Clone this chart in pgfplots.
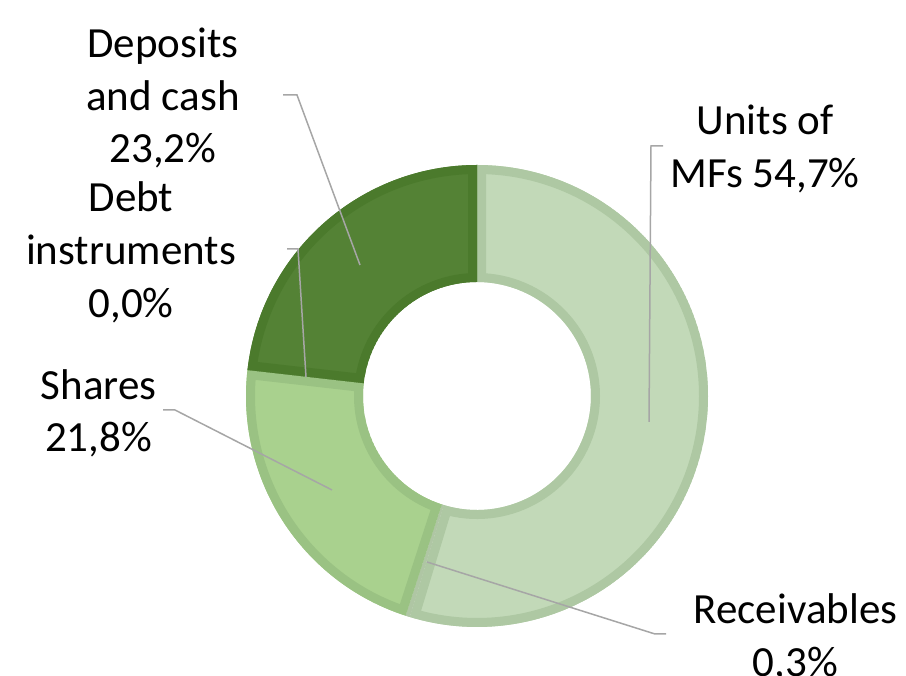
\documentclass[border=0pt]{standalone}
\usepackage{pgfplots}
\pgfplotsset{compat=1.18}
\usepackage{pgfplotstable}
\usepackage{fontspec}
\setmainfont{Carlito}

\definecolor{unitsfill}{HTML}{C2D9B8}
\definecolor{unitsline}{HTML}{AEC8A3}
\definecolor{recfill}{HTML}{B3C9A9}
\definecolor{recline}{HTML}{AFC6A4}
\definecolor{sharesfill}{HTML}{A9D18E}
\definecolor{sharesline}{HTML}{9AC283}
\definecolor{debtfill}{HTML}{6A9A4A}
\definecolor{debtline}{HTML}{5E8C40}
\definecolor{depfill}{HTML}{548235}
\definecolor{depline}{HTML}{4B7A2C}
\definecolor{leader}{HTML}{A6A6A6}

% shares of the portfolio, in %
\pgfplotstableread{
label value
Units 54.7
Receivables 0.3
Shares 21.8
Debt 0.0
Deposits 23.2
}\donutdata

\newcommand\cx{477}
\newcommand\cy{280}
\newcommand\slicepath[2]{(axis cs:\cx,\cy) ++(#1:231pt)
  arc[start angle=#1,end angle=#2,radius=231pt]
  -- ++(#2:-117pt) arc[start angle=#2,end angle=#1,radius=114pt] -- cycle}
\newcommand\slice[4]{%
  \begin{scope}
    \clip \slicepath{#1}{#2};
    \fill[#3] \slicepath{#1}{#2};
    \draw[#4,line width=18pt] \slicepath{#1}{#2};
  \end{scope}}
\newcommand\labelfont{\fontsize{43}{53}\selectfont}
\newcommand\lbl[3]{\node[anchor=base,inner sep=0pt,font=\labelfont] at (axis cs:#1,#2) {#3};}

\begin{document}
\begin{tikzpicture}
\pgfplotstablegetelem{0}{value}\of\donutdata \pgfmathsetmacro\aA{90-3.6*\pgfplotsretval}
\pgfplotstablegetelem{1}{value}\of\donutdata \pgfmathsetmacro\aB{\aA-3.6*\pgfplotsretval}
\pgfplotstablegetelem{2}{value}\of\donutdata \pgfmathsetmacro\aC{\aB-3.6*\pgfplotsretval}
\pgfplotstablegetelem{3}{value}\of\donutdata \pgfmathsetmacro\aD{\aC-3.6*\pgfplotsretval}
\pgfplotstablegetelem{4}{value}\of\donutdata \pgfmathsetmacro\aE{\aD-3.6*\pgfplotsretval}
\path[use as bounding box] (0,0) rectangle (906pt,676pt);
\clip (0,0) rectangle (906pt,676pt);
\begin{axis}[
  at={(0,0)}, anchor=origin,
  x=1pt, y=1pt,
  xmin=0, xmax=906, ymin=0, ymax=676,
  hide axis, clip=false,
]
\addplot[draw=none] coordinates {(0,0) (906,676)};

\slice{90}{\aA}{unitsfill}{unitsline}
\slice{\aA}{\aB}{recfill}{recline}
\slice{\aB}{\aC}{sharesfill}{sharesline}
\slice{\aC}{\aD}{debtfill}{debtline}
\slice{\aD}{\aE}{depfill}{depline}

% leader lines
\draw[leader,line width=1.5pt] (axis cs:283,581) -- (axis cs:297,581) -- (axis cs:360,411);
\draw[leader,line width=1.5pt] (axis cs:287,427) -- (axis cs:298,427) -- (axis cs:306,299);
\draw[leader,line width=1.5pt] (axis cs:163,266) -- (axis cs:175,266) -- (axis cs:332,186);
\draw[leader,line width=1.5pt] (axis cs:663,530) -- (axis cs:651,530) -- (axis cs:649,254);
\draw[leader,line width=1.5pt] (axis cs:666,42) -- (axis cs:655,42) -- (axis cs:427,114);

% labels
\lbl{163}{618}{Deposits}
\lbl{163}{565}{and cash}
\lbl{163}{513}{23,2\%}
\lbl{131}{464}{Debt}
\lbl{131}{411}{instruments}
\lbl{131}{358}{0,0\%}
\lbl{98.5}{276}{Shares}
\lbl{98.5}{224}{21,8\%}
\lbl{765}{541}{Units of}
\lbl{765}{488}{MFs 54,7\%}
\lbl{795.5}{52}{Receivables}
\lbl{795.5}{-1}{0,3\%}
\end{axis}
\end{tikzpicture}
\end{document}
